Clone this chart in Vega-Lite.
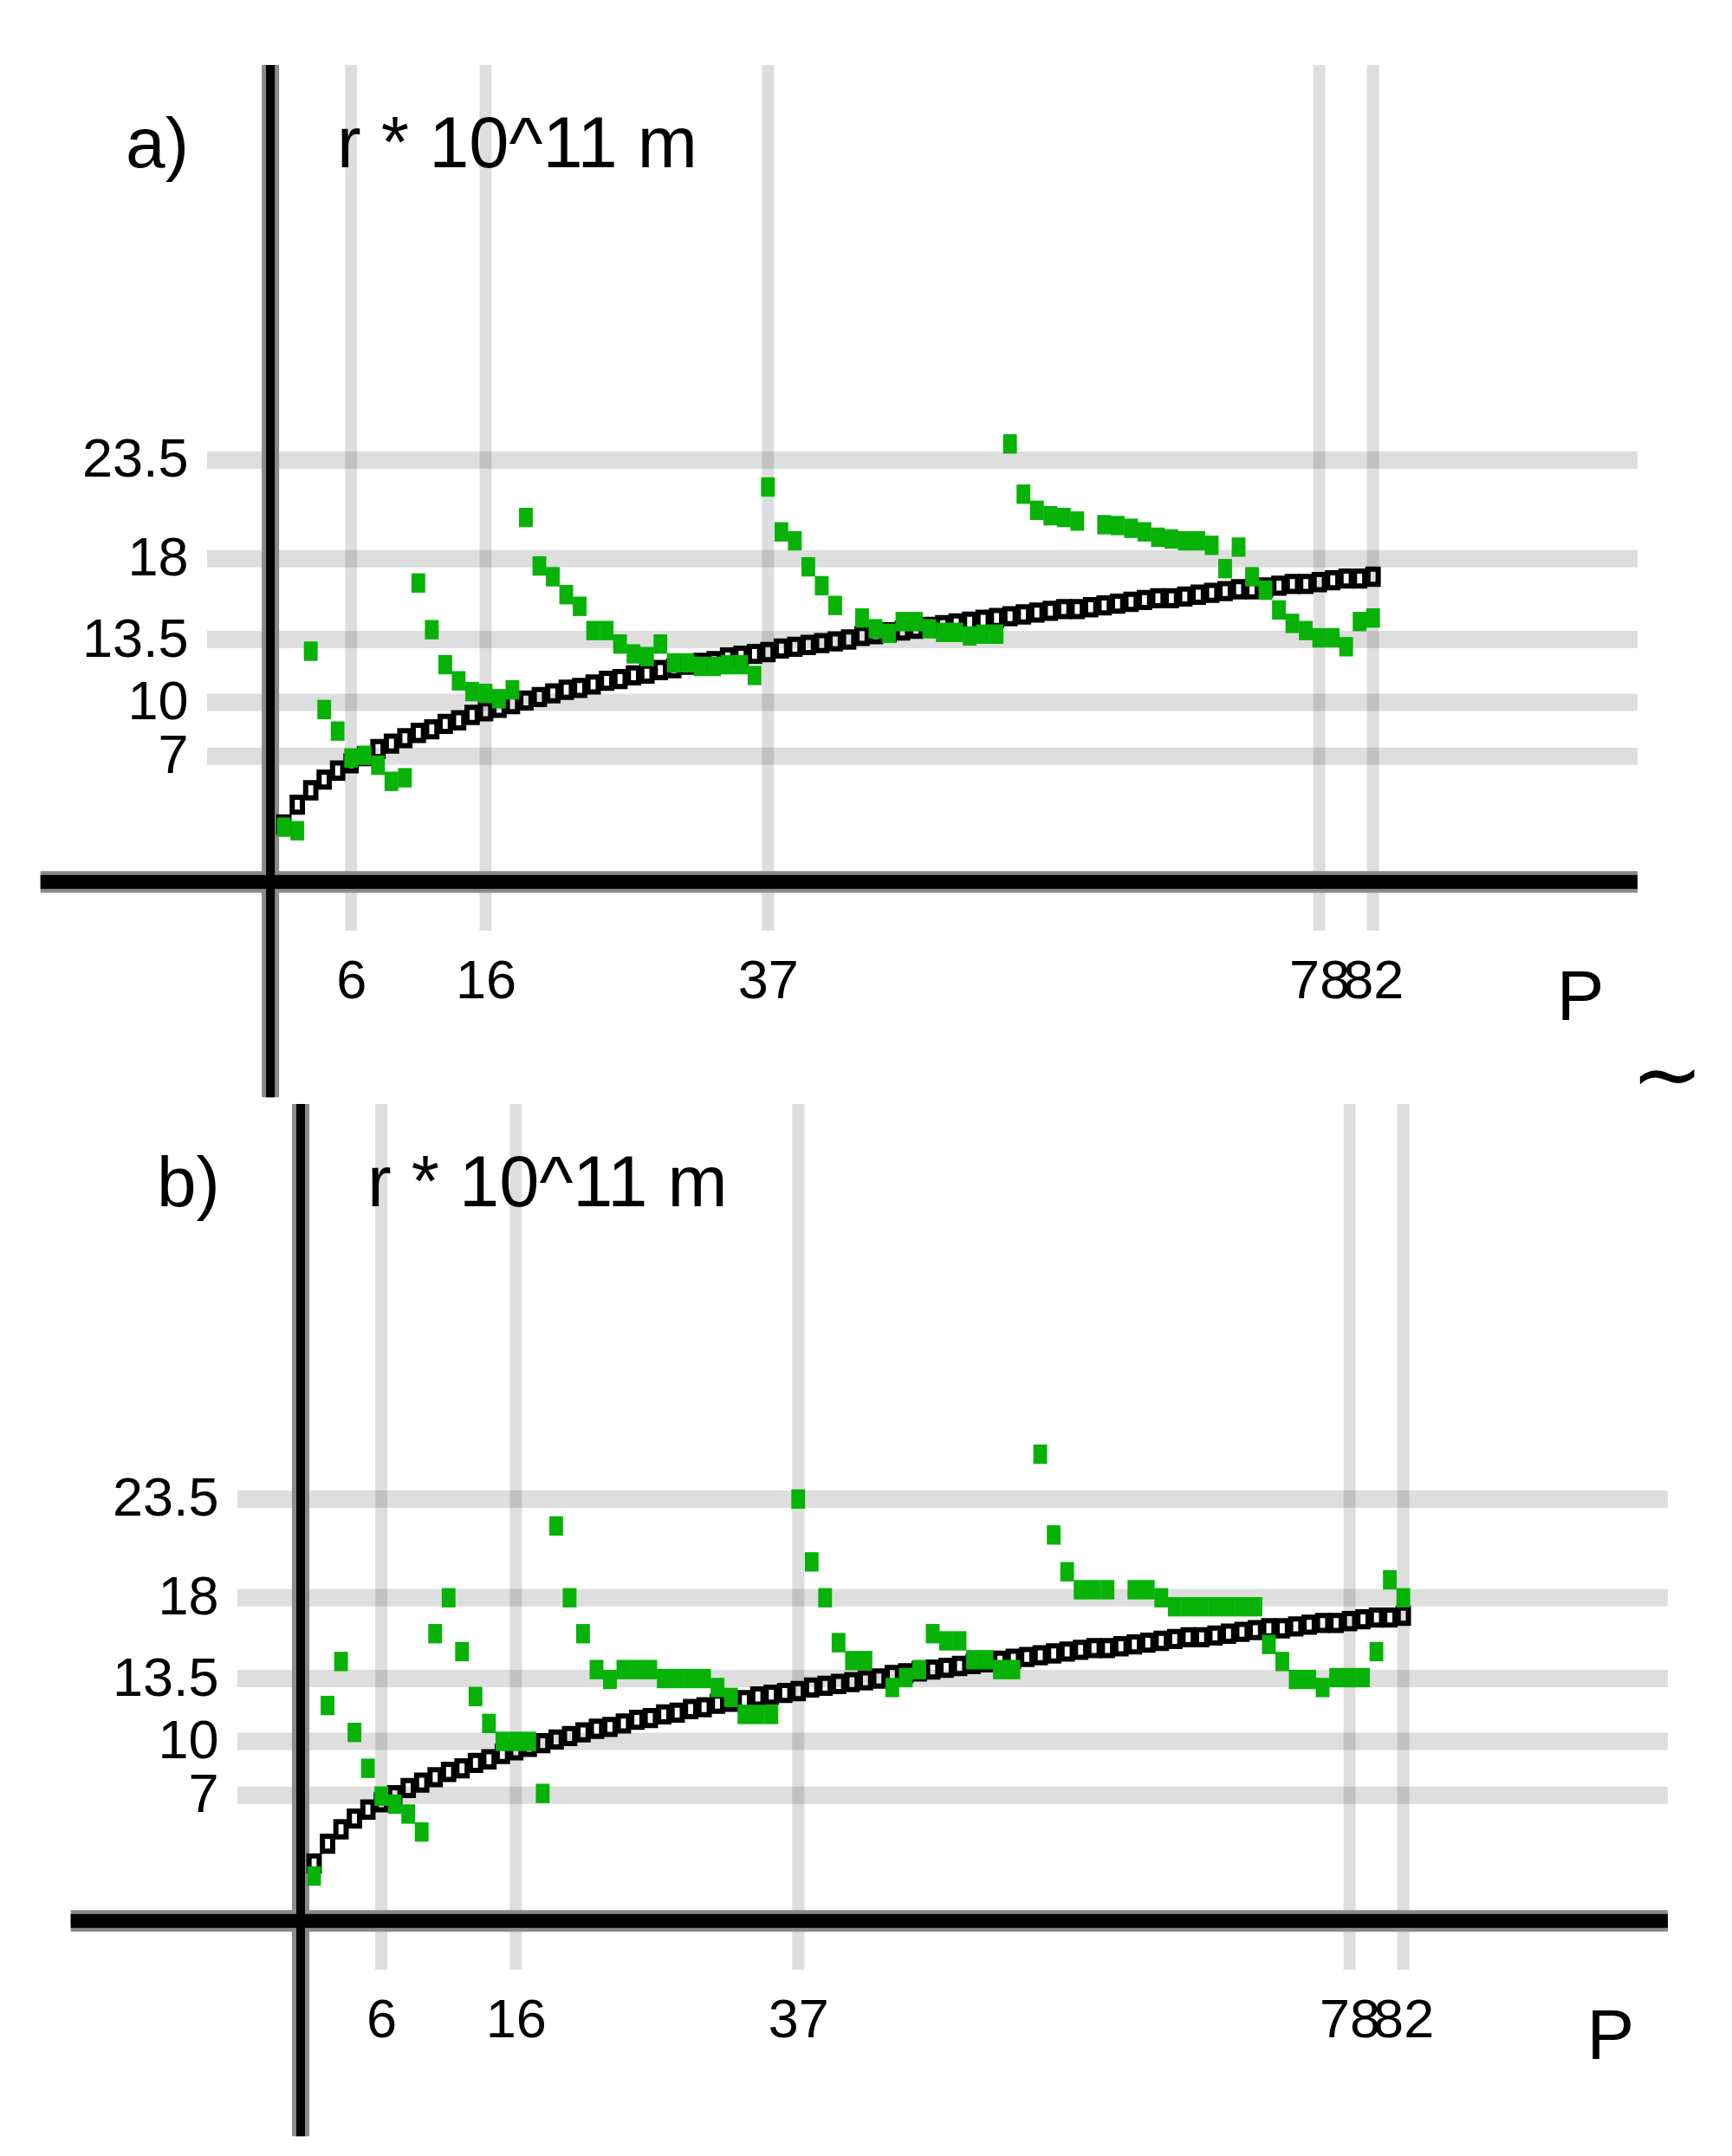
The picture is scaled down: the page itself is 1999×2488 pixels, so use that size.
{
  "$schema": "https://vega.github.io/schema/vega-lite/v6.json",
  "background": "white",
  "autosize": {"type": "pad"},
  "padding": {"left": 34, "top": 65, "right": 0, "bottom": 0},
  "bounds": "flush",
  "spacing": 200,
  "config": {
    "view": {"stroke": null},
    "font": "Liberation Sans",
    "axis": {
      "labelFont": "Liberation Sans",
      "labelFontSize": 63,
      "labelColor": "#000",
      "grid": false,
      "domain": false,
      "ticks": false,
      "tickSize": 0,
      "labelOverlap": false,
      "labelFlush": false,
      "labelBound": false,
      "title": null
    },
    "axisX": {"labelPadding": 27},
    "axisY": {"labelPadding": 22}
  },
  "datasets": {
    "gridH": [{"r": 7}, {"r": 10}, {"r": 13.5}, {"r": 18}, {"r": 23.5}],
    "gridV": [{"P": 6}, {"P": 16}, {"P": 37}, {"P": 78}, {"P": 82}],
    "model": [
      {"P": 1, "r": 3.2}, {"P": 2, "r": 4.3}, {"P": 3, "r": 5.1}, {"P": 4, "r": 5.7}, {"P": 5, "r": 6.2},
      {"P": 6, "r": 6.6}, {"P": 7, "r": 7.0}, {"P": 8, "r": 7.4}, {"P": 9, "r": 7.7}, {"P": 10, "r": 8.0},
      {"P": 11, "r": 8.3}, {"P": 12, "r": 8.5}, {"P": 13, "r": 8.8}, {"P": 14, "r": 9.0}, {"P": 15, "r": 9.3},
      {"P": 16, "r": 9.5}, {"P": 17, "r": 9.7}, {"P": 18, "r": 9.9}, {"P": 19, "r": 10.1}, {"P": 20, "r": 10.3},
      {"P": 21, "r": 10.5}, {"P": 22, "r": 10.7}, {"P": 23, "r": 10.8}, {"P": 24, "r": 11.0}, {"P": 25, "r": 11.2},
      {"P": 26, "r": 11.3}, {"P": 27, "r": 11.5}, {"P": 28, "r": 11.6}, {"P": 29, "r": 11.8}, {"P": 30, "r": 11.9},
      {"P": 31, "r": 12.1}, {"P": 32, "r": 12.2}, {"P": 33, "r": 12.3}, {"P": 34, "r": 12.5}, {"P": 35, "r": 12.6},
      {"P": 36, "r": 12.7}, {"P": 37, "r": 12.8}, {"P": 38, "r": 13.0}, {"P": 39, "r": 13.1}, {"P": 40, "r": 13.2},
      {"P": 41, "r": 13.3}, {"P": 42, "r": 13.4}, {"P": 43, "r": 13.5}, {"P": 44, "r": 13.7}, {"P": 45, "r": 13.8},
      {"P": 46, "r": 13.9}, {"P": 47, "r": 14.0}, {"P": 48, "r": 14.1}, {"P": 49, "r": 14.2}, {"P": 50, "r": 14.3},
      {"P": 51, "r": 14.4}, {"P": 52, "r": 14.5}, {"P": 53, "r": 14.6}, {"P": 54, "r": 14.7}, {"P": 55, "r": 14.8},
      {"P": 56, "r": 14.9}, {"P": 57, "r": 15.0}, {"P": 58, "r": 15.1}, {"P": 59, "r": 15.2}, {"P": 60, "r": 15.2},
      {"P": 61, "r": 15.3}, {"P": 62, "r": 15.4}, {"P": 63, "r": 15.5}, {"P": 64, "r": 15.6}, {"P": 65, "r": 15.7},
      {"P": 66, "r": 15.8}, {"P": 67, "r": 15.8}, {"P": 68, "r": 15.9}, {"P": 69, "r": 16.0}, {"P": 70, "r": 16.1},
      {"P": 71, "r": 16.2}, {"P": 72, "r": 16.3}, {"P": 73, "r": 16.3}, {"P": 74, "r": 16.4}, {"P": 75, "r": 16.5},
      {"P": 76, "r": 16.6}, {"P": 77, "r": 16.6}, {"P": 78, "r": 16.7}, {"P": 79, "r": 16.8}, {"P": 80, "r": 16.9},
      {"P": 81, "r": 16.9}, {"P": 82, "r": 17.0}
    ],
    "measuredA": [
      {"P": 1, "r": 3.05}, {"P": 2, "r": 2.85}, {"P": 3, "r": 12.85}, {"P": 4, "r": 9.6}, {"P": 5, "r": 8.4},
      {"P": 6, "r": 6.9}, {"P": 7, "r": 7.05}, {"P": 8, "r": 6.5}, {"P": 9, "r": 5.6}, {"P": 10, "r": 5.8},
      {"P": 11, "r": 16.65}, {"P": 12, "r": 14.05}, {"P": 13, "r": 12.1}, {"P": 14, "r": 11.2}, {"P": 15, "r": 10.6},
      {"P": 16, "r": 10.5}, {"P": 17, "r": 10.2}, {"P": 18, "r": 10.7}, {"P": 19, "r": 20.3}, {"P": 20, "r": 17.6},
      {"P": 21, "r": 17.0}, {"P": 22, "r": 16.0}, {"P": 23, "r": 15.35}, {"P": 24, "r": 14.0}, {"P": 25, "r": 14.0},
      {"P": 26, "r": 13.25}, {"P": 27, "r": 12.7}, {"P": 28, "r": 12.55}, {"P": 29, "r": 13.25}, {"P": 30, "r": 12.2},
      {"P": 31, "r": 12.2}, {"P": 32, "r": 12.0}, {"P": 33, "r": 12.0}, {"P": 34, "r": 12.1}, {"P": 35, "r": 12.1},
      {"P": 36, "r": 11.5}, {"P": 37, "r": 22.0}, {"P": 38, "r": 19.5}, {"P": 39, "r": 19.0}, {"P": 40, "r": 17.55},
      {"P": 41, "r": 16.5}, {"P": 42, "r": 15.4}, {"P": 44, "r": 14.7}, {"P": 45, "r": 14.1},
      {"P": 46, "r": 13.85}, {"P": 47, "r": 14.5}, {"P": 48, "r": 14.5}, {"P": 49, "r": 14.1}, {"P": 50, "r": 13.9},
      {"P": 51, "r": 13.9}, {"P": 52, "r": 13.7}, {"P": 53, "r": 13.8}, {"P": 54, "r": 13.8}, {"P": 55, "r": 24.4},
      {"P": 56, "r": 21.6}, {"P": 57, "r": 20.7}, {"P": 58, "r": 20.4}, {"P": 59, "r": 20.3}, {"P": 60, "r": 20.1},
      {"P": 62, "r": 19.9}, {"P": 63, "r": 19.85}, {"P": 64, "r": 19.7}, {"P": 65, "r": 19.5},
      {"P": 66, "r": 19.2}, {"P": 67, "r": 19.1}, {"P": 68, "r": 19.0}, {"P": 69, "r": 19.0}, {"P": 70, "r": 18.75},
      {"P": 71, "r": 17.45}, {"P": 72, "r": 18.65}, {"P": 73, "r": 17.0}, {"P": 74, "r": 16.25}, {"P": 75, "r": 15.15},
      {"P": 76, "r": 14.4}, {"P": 77, "r": 14.0}, {"P": 78, "r": 13.6}, {"P": 79, "r": 13.6}, {"P": 80, "r": 13.1},
      {"P": 81, "r": 14.5}, {"P": 82, "r": 14.7}
    ],
    "measuredB": [
      {"P": 1, "r": 2.5}, {"P": 2, "r": 12.0}, {"P": 3, "r": 14.45}, {"P": 4, "r": 10.5}, {"P": 5, "r": 8.5},
      {"P": 6, "r": 6.95}, {"P": 7, "r": 6.5}, {"P": 8, "r": 5.95}, {"P": 9, "r": 4.95}, {"P": 10, "r": 16.0},
      {"P": 11, "r": 18.0}, {"P": 12, "r": 15.0}, {"P": 13, "r": 12.5}, {"P": 14, "r": 11.0}, {"P": 15, "r": 10.0},
      {"P": 16, "r": 10.0}, {"P": 17, "r": 10.0}, {"P": 18, "r": 7.1}, {"P": 19, "r": 22.0}, {"P": 20, "r": 18.0},
      {"P": 21, "r": 16.0}, {"P": 22, "r": 14.0}, {"P": 23, "r": 13.45}, {"P": 24, "r": 14.0}, {"P": 25, "r": 14.0},
      {"P": 26, "r": 14.0}, {"P": 27, "r": 13.5}, {"P": 28, "r": 13.5}, {"P": 29, "r": 13.5}, {"P": 30, "r": 13.5},
      {"P": 31, "r": 13.0}, {"P": 32, "r": 12.45}, {"P": 33, "r": 11.5}, {"P": 34, "r": 11.5}, {"P": 35, "r": 11.5},
      {"P": 37, "r": 23.5}, {"P": 38, "r": 20.0}, {"P": 39, "r": 18.0}, {"P": 40, "r": 15.5},
      {"P": 41, "r": 14.5}, {"P": 42, "r": 14.5}, {"P": 44, "r": 13.0}, {"P": 45, "r": 13.55},
      {"P": 46, "r": 14.0}, {"P": 47, "r": 16.0}, {"P": 48, "r": 15.6}, {"P": 49, "r": 15.6}, {"P": 50, "r": 14.55},
      {"P": 51, "r": 14.55}, {"P": 52, "r": 14.0}, {"P": 53, "r": 14.0}, {"P": 55, "r": 26.0},
      {"P": 56, "r": 21.5}, {"P": 57, "r": 19.45}, {"P": 58, "r": 18.45}, {"P": 59, "r": 18.45}, {"P": 60, "r": 18.45},
      {"P": 62, "r": 18.45}, {"P": 63, "r": 18.45}, {"P": 64, "r": 18.0}, {"P": 65, "r": 17.5},
      {"P": 66, "r": 17.5}, {"P": 67, "r": 17.5}, {"P": 68, "r": 17.5}, {"P": 69, "r": 17.5}, {"P": 70, "r": 17.5},
      {"P": 71, "r": 17.5}, {"P": 72, "r": 15.4}, {"P": 73, "r": 14.45}, {"P": 74, "r": 13.45}, {"P": 75, "r": 13.45},
      {"P": 76, "r": 13.0}, {"P": 77, "r": 13.55}, {"P": 78, "r": 13.55}, {"P": 79, "r": 13.55}, {"P": 80, "r": 15.0},
      {"P": 81, "r": 19.0}, {"P": 82, "r": 18.0}
    ]
  },
  "vconcat": [
    {
      "width": 1651,
      "height": 999,
      "layer": [
        {
          "data": {"name": "gridV"},
          "mark": {"type": "rule", "stroke": "#000", "strokeOpacity": 0.13, "strokeWidth": 14},
          "encoding": {
            "x": {"field": "P", "type": "quantitative", "title": null},
            "y": {"datum": -2.72},
            "y2": {"datum": 45.51}
          }
        },
        {
          "data": {"name": "gridH"},
          "mark": {"type": "rule", "stroke": "#000", "strokeOpacity": 0.13, "strokeWidth": 20},
          "encoding": {
            "y": {"field": "r", "type": "quantitative", "title": null},
            "x": {"datum": -4.71},
            "x2": {"datum": 101.67}
          }
        },
        {
          "data": {"values": [{}]},
          "mark": {"type": "rule", "stroke": "#8a8a8a", "strokeWidth": 20},
          "encoding": {"x": {"datum": 0}, "y": {"datum": -12.0}, "y2": {"datum": 45.51}}
        },
        {
          "data": {"values": [{}]},
          "mark": {"type": "rule", "stroke": "#8a8a8a", "strokeWidth": 25},
          "encoding": {"y": {"datum": 0}, "x": {"datum": -17.1}, "x2": {"datum": 101.67}}
        },
        {
          "data": {"values": [{}]},
          "mark": {"type": "rule", "stroke": "#000", "strokeWidth": 10},
          "encoding": {"x": {"datum": 0}, "y": {"datum": -12.0}, "y2": {"datum": 45.51}}
        },
        {
          "data": {"values": [{}]},
          "mark": {"type": "rule", "stroke": "#000", "strokeWidth": 16},
          "encoding": {"y": {"datum": 0}, "x": {"datum": -17.1}, "x2": {"datum": 101.67}}
        },
        {
          "data": {"name": "model"},
          "mark": {"type": "point", "shape": "M-0.68,-1H0.68V1H-0.68Z", "size": 300, "filled": false, "color": "#000", "strokeWidth": 6, "opacity": 1},
          "encoding": {
            "x": {"field": "P", "type": "quantitative", "title": null,
                  "scale": {"domain": [-4.71, 101.67], "nice": false, "zero": false},
                  "axis": {"values": [6, 16, 37, 78, 82], "title": null, "format": "~g"}},
            "y": {"field": "r", "type": "quantitative", "title": null,
                  "scale": {"domain": [-2.72, 45.51], "nice": false, "zero": false},
                  "axis": {"values": [7, 10, 13.5, 18, 23.5], "title": null, "format": ".3~g"}}
          }
        },
        {
          "data": {"name": "measuredA"},
          "mark": {"type": "point", "shape": "M-0.71,-1H0.71V1H-0.71Z", "size": 500, "filled": true, "color": "#06b206", "strokeWidth": 0, "opacity": 1},
          "encoding": {
            "x": {"field": "P", "type": "quantitative", "title": null},
            "y": {"field": "r", "type": "quantitative", "title": null}
          }
        },
        {
          "data": {"values": [{"t": "a)"}]},
          "mark": {"type": "text", "font": "Liberation Sans", "fontSize": 82, "align": "left", "baseline": "alphabetic", "color": "#000"},
          "encoding": {"x": {"datum": -10.76}, "y": {"datum": 39.8}, "text": {"field": "t"}}
        },
        {
          "data": {"values": [{"t": "r * 10^11 m"}]},
          "mark": {"type": "text", "font": "Liberation Sans", "fontSize": 83, "align": "left", "baseline": "alphabetic", "color": "#000"},
          "encoding": {"x": {"datum": 4.96}, "y": {"datum": 39.8}, "text": {"field": "t"}}
        },
        {
          "data": {"values": [{"t": "P"}]},
          "mark": {"type": "text", "font": "Liberation Sans", "fontSize": 82, "align": "center", "baseline": "alphabetic", "color": "#000"},
          "encoding": {"x": {"datum": 97.42}, "y": {"datum": -7.7}, "text": {"field": "t"}}
        },
        {
          "data": {"values": [{"t": "∼"}]},
          "mark": {"type": "text", "font": "DejaVu Sans", "fontSize": 100, "align": "center", "baseline": "middle", "color": "#000"},
          "encoding": {"x": {"datum": 103.87}, "y": {"datum": -10.93}, "text": {"field": "t"}}
        }
      ]
    },
    {
      "width": 1651,
      "height": 999,
      "layer": [
        {
          "data": {"name": "gridV"},
          "mark": {"type": "rule", "stroke": "#000", "strokeOpacity": 0.13, "strokeWidth": 14},
          "encoding": {
            "x": {"field": "P", "type": "quantitative", "title": null},
            "y": {"datum": -2.72},
            "y2": {"datum": 45.51}
          }
        },
        {
          "data": {"name": "gridH"},
          "mark": {"type": "rule", "stroke": "#000", "strokeOpacity": 0.13, "strokeWidth": 20},
          "encoding": {
            "y": {"field": "r", "type": "quantitative", "title": null},
            "x": {"datum": -4.71},
            "x2": {"datum": 101.67}
          }
        },
        {
          "data": {"values": [{}]},
          "mark": {"type": "rule", "stroke": "#8a8a8a", "strokeWidth": 20},
          "encoding": {"x": {"datum": 0}, "y": {"datum": -12.0}, "y2": {"datum": 45.51}}
        },
        {
          "data": {"values": [{}]},
          "mark": {"type": "rule", "stroke": "#8a8a8a", "strokeWidth": 25},
          "encoding": {"y": {"datum": 0}, "x": {"datum": -17.1}, "x2": {"datum": 101.67}}
        },
        {
          "data": {"values": [{}]},
          "mark": {"type": "rule", "stroke": "#000", "strokeWidth": 10},
          "encoding": {"x": {"datum": 0}, "y": {"datum": -12.0}, "y2": {"datum": 45.51}}
        },
        {
          "data": {"values": [{}]},
          "mark": {"type": "rule", "stroke": "#000", "strokeWidth": 16},
          "encoding": {"y": {"datum": 0}, "x": {"datum": -17.1}, "x2": {"datum": 101.67}}
        },
        {
          "data": {"name": "model"},
          "mark": {"type": "point", "shape": "M-0.68,-1H0.68V1H-0.68Z", "size": 300, "filled": false, "color": "#000", "strokeWidth": 6, "opacity": 1},
          "encoding": {
            "x": {"field": "P", "type": "quantitative", "title": null,
                  "scale": {"domain": [-6.96, 99.42], "nice": false, "zero": false},
                  "axis": {"values": [6, 16, 37, 78, 82], "title": null, "format": "~g"}},
            "y": {"field": "r", "type": "quantitative", "title": null,
                  "scale": {"domain": [-2.72, 45.51], "nice": false, "zero": false},
                  "axis": {"values": [7, 10, 13.5, 18, 23.5], "title": null, "offset": -35, "format": ".3~g"}}
          }
        },
        {
          "data": {"name": "measuredB"},
          "mark": {"type": "point", "shape": "M-0.71,-1H0.71V1H-0.71Z", "size": 500, "filled": true, "color": "#06b206", "strokeWidth": 0, "opacity": 1},
          "encoding": {
            "x": {"field": "P", "type": "quantitative", "title": null},
            "y": {"field": "r", "type": "quantitative", "title": null}
          }
        },
        {
          "data": {"values": [{"t": "b)"}]},
          "mark": {"type": "text", "font": "Liberation Sans", "fontSize": 82, "align": "left", "baseline": "alphabetic", "color": "#000"},
          "encoding": {"x": {"datum": -10.7}, "y": {"datum": 39.8}, "text": {"field": "t"}}
        },
        {
          "data": {"values": [{"t": "r * 10^11 m"}]},
          "mark": {"type": "text", "font": "Liberation Sans", "fontSize": 83, "align": "left", "baseline": "alphabetic", "color": "#000"},
          "encoding": {"x": {"datum": 4.96}, "y": {"datum": 39.8}, "text": {"field": "t"}}
        },
        {
          "data": {"values": [{"t": "P"}]},
          "mark": {"type": "text", "font": "Liberation Sans", "fontSize": 82, "align": "center", "baseline": "alphabetic", "color": "#000"},
          "encoding": {"x": {"datum": 97.42}, "y": {"datum": -7.7}, "text": {"field": "t"}}
        }
      ]
    }
  ]
}
